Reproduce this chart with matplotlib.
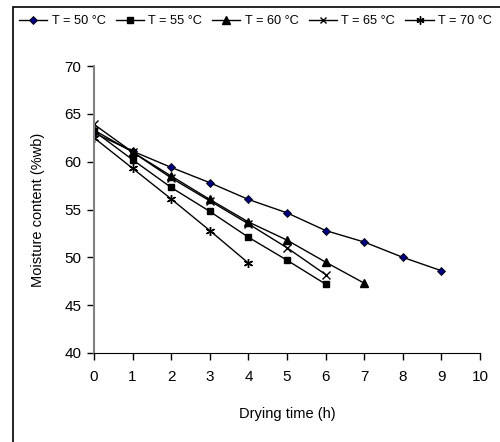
import matplotlib
matplotlib.use("Agg")
import matplotlib.pyplot as plt
from matplotlib.patches import Rectangle

plt.rcParams['font.family'] = ['Liberation Sans', 'DejaVu Sans']

labels = ["T = 50 °C", "T = 55 °C", "T = 60 °C", "T = 65 °C", "T = 70 °C"]
t50 = [0, 1, 2, 3, 4, 5, 6, 7, 8, 9]
m50 = [63.0, 61.1, 59.4, 57.8, 56.05, 54.65, 52.8, 51.6, 50.0, 48.6]
t55 = [0, 1, 2, 3, 4, 5, 6]
m55 = [63.2, 60.2, 57.3, 54.8, 52.1, 49.7, 47.2]
t60 = [0, 1, 2, 3, 4, 5, 6, 7]
m60 = [63.3, 61.0, 58.5, 56.05, 53.7, 51.8, 49.5, 47.3]
t65 = [0, 1, 2, 3, 4, 5, 6]
m65 = [63.9, 61.0, 58.3, 55.9, 53.5, 51.0, 48.2]
t70 = [0, 1, 2, 3, 4]
m70 = [62.5, 59.3, 56.1, 52.8, 49.4]

fig = plt.figure(figsize=(5.0, 4.42), dpi=100)
ax = fig.add_axes([94/500, 1-353/442, (480-94)/500, (353-66)/442])

ax.plot(t50, m50, color='black', lw=1, marker='D', ms=4.5, mfc='#000080', mec='black', mew=0.6, label=labels[0])
ax.plot(t55, m55, color='black', lw=1, marker='s', ms=5, mfc='black', mec='black', label=labels[1])
ax.plot(t60, m60, color='black', lw=1, marker='^', ms=6, mfc='black', mec='black', label=labels[2])
ax.plot(t65, m65, color='black', lw=1, marker='x', ms=5.5, mew=1, label=labels[3])
ax.plot(t70, m70, color='black', lw=1, marker=(6, 2, 0), ms=6.5, mew=1, label=labels[4])

ax.set_xlim(0, 10)
ax.set_ylim(40, 70)
ax.set_xticks(range(0, 11))
ax.set_yticks(range(40, 71, 5))
ax.spines['top'].set_visible(False)
ax.spines['right'].set_visible(False)
ax.spines['left'].set_color('#808080')
ax.spines['left'].set_linewidth(1.5)
ax.spines['bottom'].set_color('black')
ax.tick_params(axis='both', labelsize=11, direction='out', length=5, width=1)
ax.tick_params(axis='x', pad=7)
ax.tick_params(axis='y', pad=4)
ax.set_xlabel('Drying time (h)', fontsize=10.5, labelpad=17)
ax.set_ylabel('Moisture content (%wb)', fontsize=10.5, labelpad=14)

fig.legend(loc='center left', bbox_to_anchor=(19/500, 1-21/442), ncol=5, frameon=False,
           fontsize=9.2, handlelength=2.2, handletextpad=0.35, columnspacing=0.8,
           borderaxespad=0, borderpad=0.0, markerscale=0.9)

fig.patches.append(Rectangle((13/500, -0.01), 1.0, 1-7/442+0.01, transform=fig.transFigure,
                             fill=False, edgecolor='black', lw=1.2))

fig.savefig('out.png', dpi=100)
